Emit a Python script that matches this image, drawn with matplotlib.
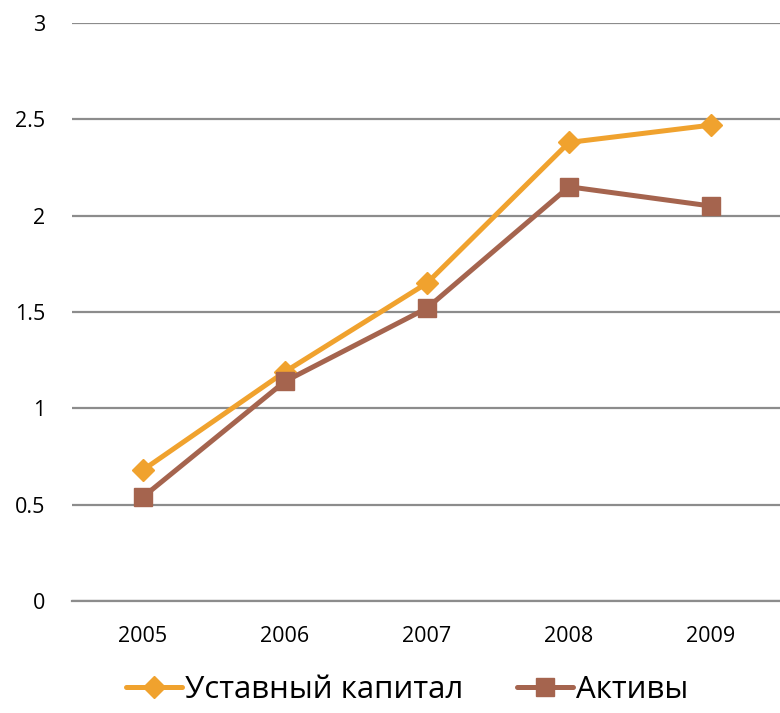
import matplotlib.pyplot as plt
from matplotlib.lines import Line2D

years = ["2005", "2006", "2007", "2008", "2009"]
capital = [0.68, 1.19, 1.65, 2.38, 2.47]
assets = [0.54, 1.14, 1.52, 2.15, 2.05]
yticks = [0, 0.5, 1, 1.5, 2, 2.5, 3]

orange = "#F0A22E"
brown = "#A5644E"
grid = "#8C8C8C"

plt.rcParams['font.family'] = ['Open Sans', 'DejaVu Sans']

fig = plt.figure(figsize=(7.8, 7.13), dpi=100)
ax = fig.add_axes([72 / 780, 1 - 601 / 713, (782 - 72) / 780, (601 - 23) / 713])

x = list(range(len(years)))
ax.plot(x, capital, color=orange, lw=3.6, marker="D", ms=11, mec=orange,
        mfc=orange, label="Уставный капитал", zorder=3, solid_capstyle="round")
ax.plot(x, assets, color=brown, lw=3.6, marker="s", ms=13, mec=brown,
        mfc=brown, label="Активы", zorder=3, solid_capstyle="round")

ax.set_xlim(-0.5, len(years) - 0.5)
ax.set_ylim(0, 3)
ax.set_xticks(x)
ax.set_xticklabels(years)
ax.set_yticks(yticks)
ax.set_yticklabels(["0", "0.5", "1", "1.5", "2", "2.5", "3"])
ax.yaxis.grid(True, color=grid, lw=1.6)
ax.set_axisbelow(True)
for s in ["top", "right", "left"]:
    ax.spines[s].set_visible(False)
ax.spines["bottom"].set_color(grid)
ax.spines["bottom"].set_linewidth(1.6)
ax.tick_params(axis="both", length=0, labelsize=15.5)
ax.tick_params(axis="y", pad=19)
ax.tick_params(axis="x", pad=18)

handles = [
    Line2D([], [], color=orange, lw=3.6, marker="D", ms=11, solid_capstyle="round"),
    Line2D([], [], color=brown, lw=3.6, marker="s", ms=13, solid_capstyle="round"),
]
fig.legend(handles, ["Уставный капитал", "Активы"], loc="center",
           bbox_to_anchor=(407 / 780, 1 - 690 / 713), ncol=2, frameon=False,
           fontsize=22.5, handlelength=1.8, handletextpad=0.1, columnspacing=1.7,
           borderpad=0)

fig.savefig("out.png", dpi=100)
